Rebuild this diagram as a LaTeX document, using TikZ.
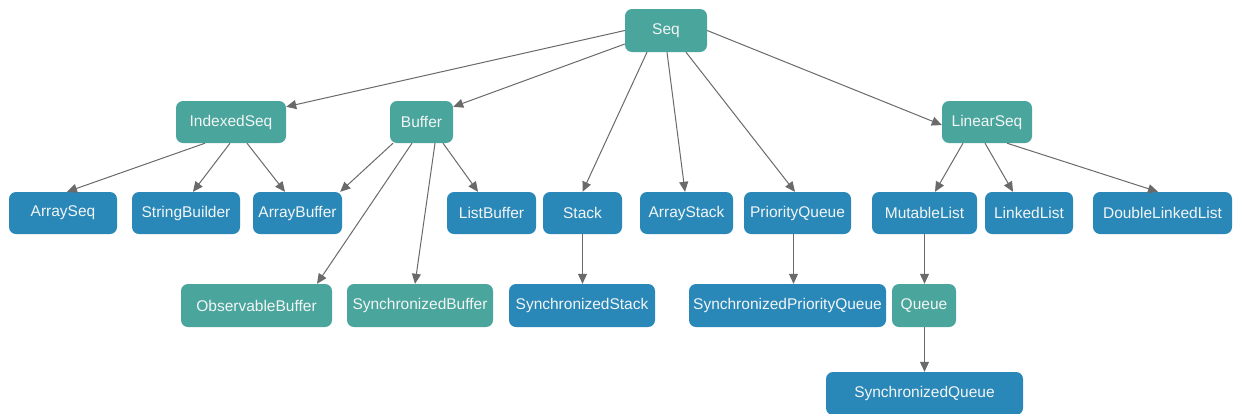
\documentclass[tikz,border=0pt]{standalone}
\usepackage{fontspec}
\setmainfont{Liberation Sans}
\usetikzlibrary{arrows.meta}
\definecolor{tealfill}{HTML}{4AA59C}
\definecolor{bluefill}{HTML}{2A88B8}
\definecolor{labeltext}{HTML}{F2F5F5}
\definecolor{edgegray}{HTML}{6A6A6A}
\tikzset{
  box/.style={rounded corners=7pt, text=labeltext, inner sep=0pt,
    font=\fontsize{15.5}{18}\selectfont, minimum height=42pt, anchor=center},
  tealbox/.style={box, fill=tealfill},
  bluebox/.style={box, fill=bluefill},
  arr/.style={draw=edgegray, line width=1pt,
    -{Triangle[length=10pt,width=9pt,fill=edgegray]}},
}
\begin{document}
\begin{tikzpicture}[x=1pt,y=-1pt]
\useasboundingbox (0,0) rectangle (1233,413);
\fill[white] (0,0) rectangle (1233,413);

% root
\node[tealbox, minimum width=82pt, minimum height=43pt] (seq) at (666,30.5) {Seq};

% second level
\node[tealbox, minimum width=110pt] (indexedseq) at (231,122) {IndexedSeq};
\node[tealbox, minimum width=63pt]  (buffer)     at (421.5,122) {Buffer};
\node[tealbox, minimum width=90pt]  (linearseq)  at (987,122) {LinearSeq};

% third level
\node[bluebox, minimum width=108pt] (arrayseq)         at (63,213)     {ArraySeq};
\node[bluebox, minimum width=108pt] (stringbuilder)    at (186,213)    {StringBuilder};
\node[bluebox, minimum width=89pt]  (arraybuffer)      at (297.5,213)  {ArrayBuffer};
\node[bluebox, minimum width=89pt]  (listbuffer)       at (491.5,213)  {ListBuffer};
\node[bluebox, minimum width=79pt]  (stack)            at (582.5,213)  {Stack};
\node[bluebox, minimum width=93pt]  (arraystack)       at (686.5,213)  {ArrayStack};
\node[bluebox, minimum width=107pt] (priorityqueue)    at (797.5,213)  {PriorityQueue};
\node[bluebox, minimum width=105pt] (mutablelist)      at (924.5,213)  {MutableList};
\node[bluebox, minimum width=88pt]  (linkedlist)       at (1029,213)   {LinkedList};
\node[bluebox, minimum width=139pt] (doublelinkedlist) at (1162.5,213) {DoubleLinkedList};

% fourth level
\node[tealbox, minimum width=151pt, minimum height=43pt] (observablebuffer)   at (256.5,305.5) {ObservableBuffer};
\node[tealbox, minimum width=146pt, minimum height=43pt] (synchronizedbuffer) at (420,305.5)   {SynchronizedBuffer};
\node[bluebox, minimum width=146pt, minimum height=43pt] (synchronizedstack)  at (582,305.5)   {SynchronizedStack};
\node[bluebox, minimum width=197pt, minimum height=43pt] (syncpriorityqueue)  at (787.5,305.5) {SynchronizedPriorityQueue};
\node[tealbox, minimum width=64pt, minimum height=43pt]  (queue)              at (924,305.5)   {Queue};

% fifth level
\node[bluebox, minimum width=197pt, minimum height=43pt] (synchronizedqueue) at (924.5,393.5) {SynchronizedQueue};

% edges from Seq
\draw[arr] (seq.west) -- ([yshift=-6pt]indexedseq.north east);
\draw[arr] ([yshift=-13.5pt]seq.west) -- ([yshift=-6pt]buffer.north east);
\draw[arr] ([xshift=-19pt]seq.south) -- (stack.north);
\draw[arr] ([xshift=1pt]seq.south) -- ([xshift=-1.5pt]arraystack.north);
\draw[arr] ([xshift=20pt]seq.south) -- ([xshift=-2.5pt]priorityqueue.north);
\draw[arr] (seq.east) -- ([yshift=-3pt]linearseq.west);

% edges from IndexedSeq
\draw[arr] ([xshift=-26pt]indexedseq.south) -- ([xshift=4pt]arrayseq.north);
\draw[arr] ([xshift=-1pt]indexedseq.south) -- ([xshift=7pt]stringbuilder.north);
\draw[arr] ([xshift=16pt]indexedseq.south) -- ([xshift=-12.5pt]arraybuffer.north);

% edges from Buffer
\draw[arr] ([xshift=-28.5pt]buffer.south) -- ([xshift=-2pt]arraybuffer.north east);
\draw[arr] ([xshift=-9.5pt]buffer.south) -- ([xshift=60.5pt]observablebuffer.north);
\draw[arr] ([xshift=13.5pt]buffer.south) -- ([xshift=-5pt]synchronizedbuffer.north);
\draw[arr] ([xshift=21.5pt]buffer.south) -- ([xshift=-13.5pt]listbuffer.north);

% vertical edges
\draw[arr] (stack.south) -- (stack.south |- synchronizedstack.north);
\draw[arr] ([xshift=-4pt]priorityqueue.south) -- ([xshift=-4pt]priorityqueue.south |- syncpriorityqueue.north);

% edges from LinearSeq
\draw[arr] ([xshift=-24pt]linearseq.south) -- ([xshift=10.5pt]mutablelist.north);
\draw[arr] ([xshift=-2pt]linearseq.south) -- ([xshift=-16pt]linkedlist.north);
\draw[arr] ([xshift=20pt]linearseq.south) -- ([xshift=-4.5pt]doublelinkedlist.north);

\draw[arr] (mutablelist.south) -- (mutablelist.south |- queue.north);
\draw[arr] ([xshift=0.5pt]queue.south) -- ([xshift=0.5pt]queue.south |- synchronizedqueue.north);
\end{tikzpicture}
\end{document}
